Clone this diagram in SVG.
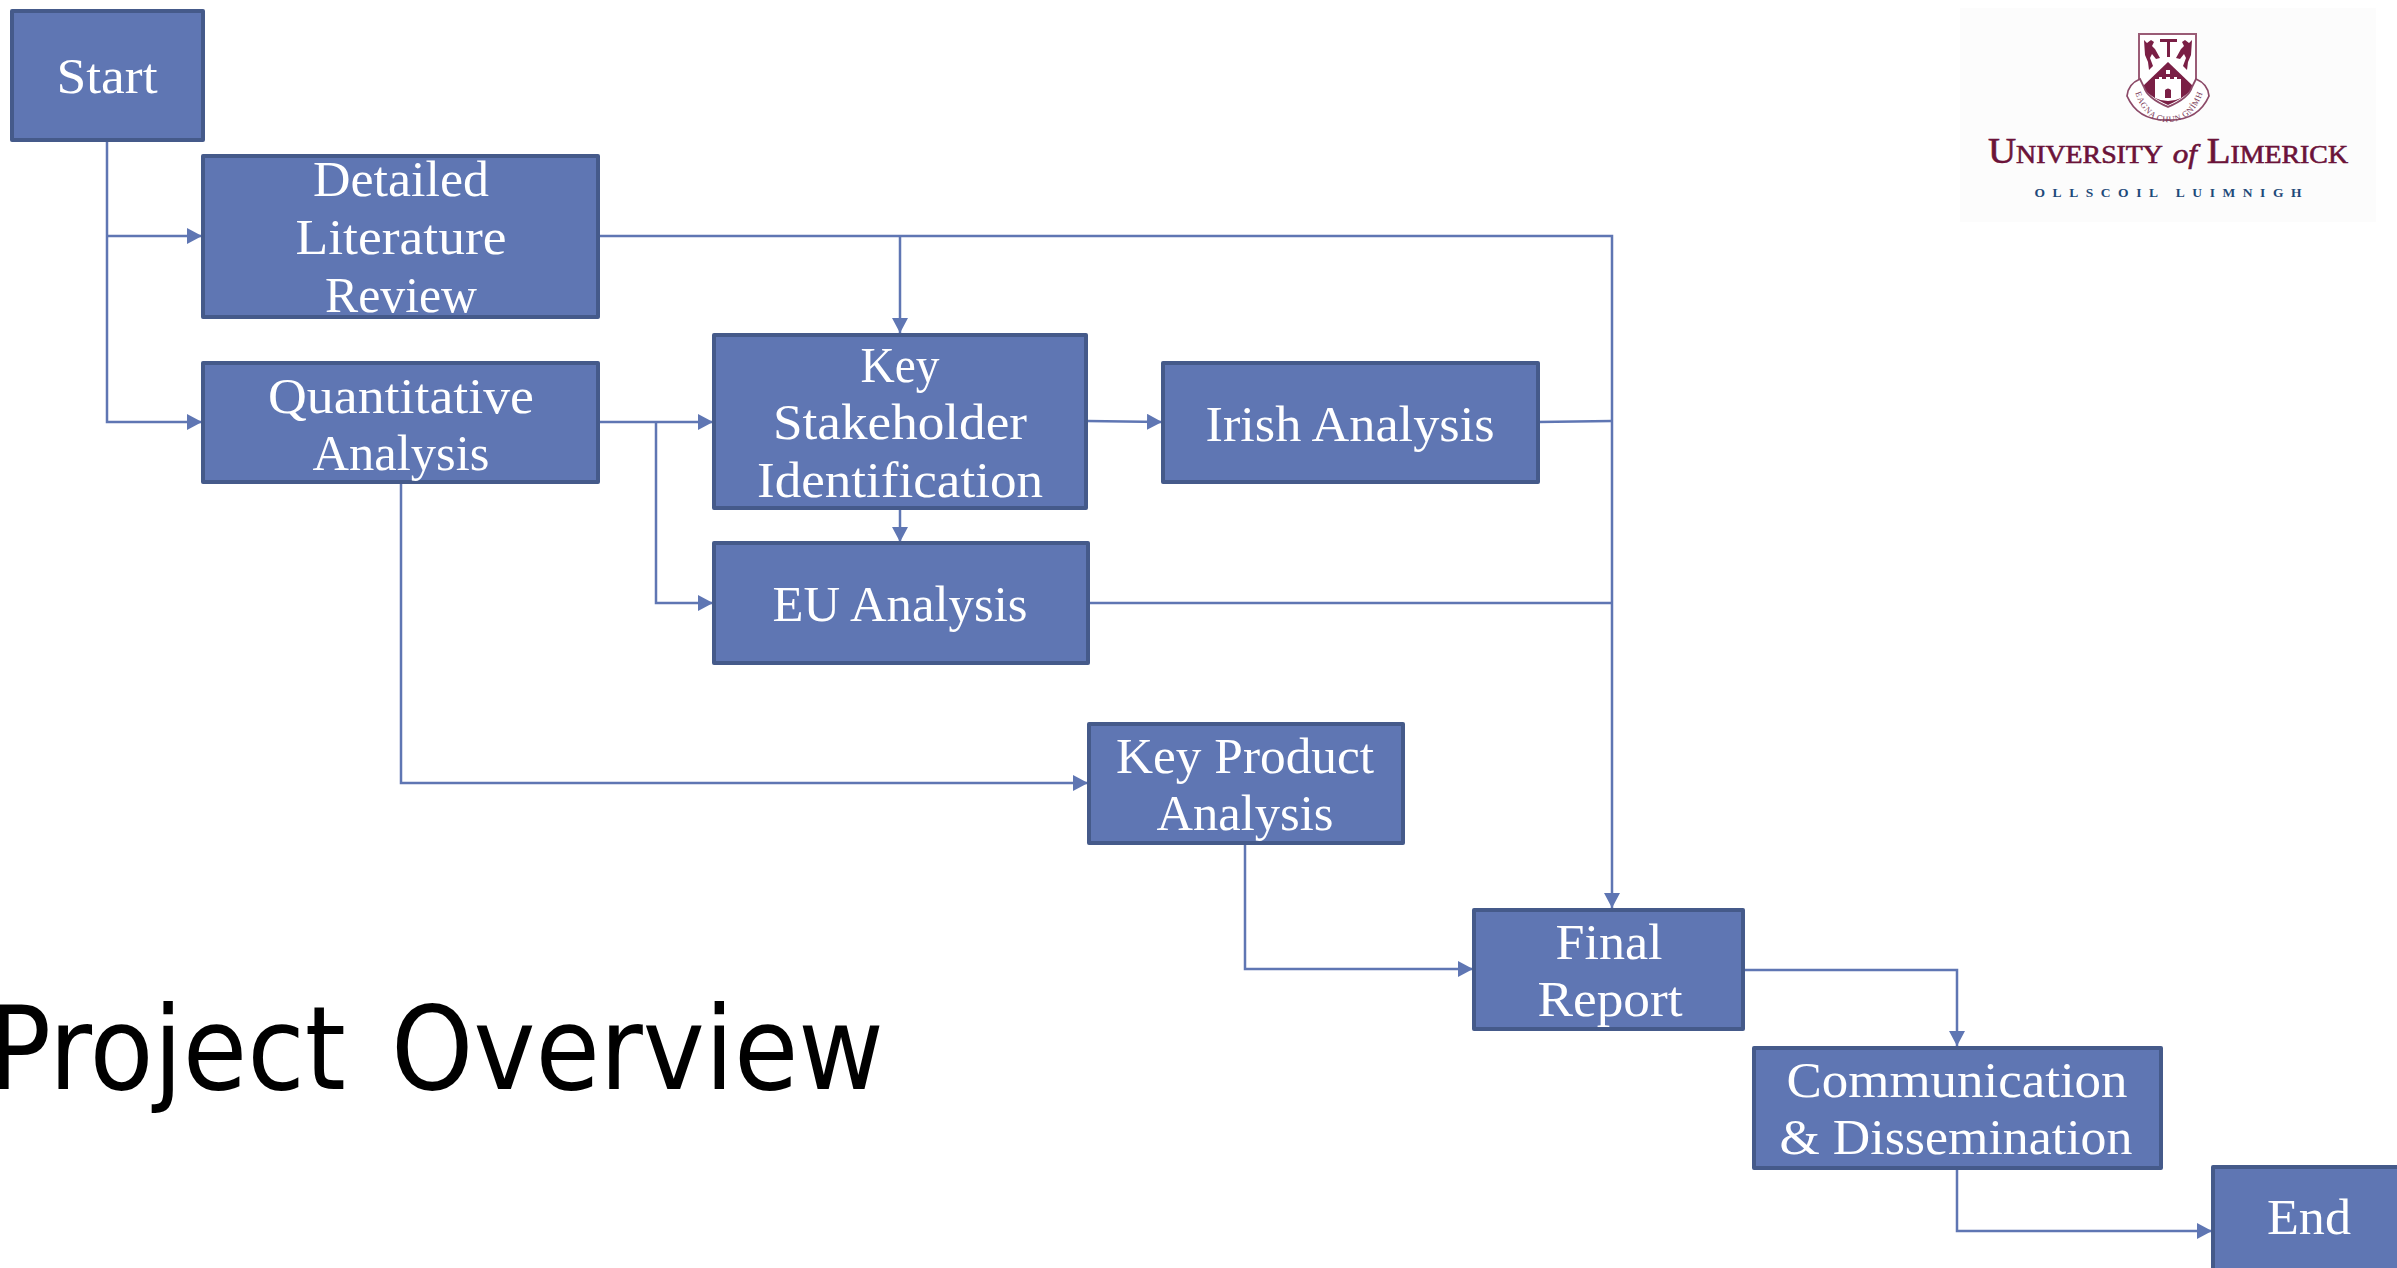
<svg xmlns="http://www.w3.org/2000/svg" width="2397" height="1268" viewBox="0 0 2397 1268">
<style>
.b{fill:#5f76b3;stroke:#455a8a;stroke-width:4;stroke-linejoin:round}
.t{font-family:"Liberation Serif",serif;font-size:51px;fill:#fff;text-anchor:middle}
.c{fill:none;stroke:#5f76b3;stroke-width:2.5}
.m{fill:#5f76b3;stroke:none}
.lg{font-family:"Liberation Serif",serif;fill:#6b1339;stroke:#6b1339;stroke-width:.6}
.cr{fill:#7a1f45}
.w{fill:#fff}
</style>
<defs>
<marker id="a" markerUnits="userSpaceOnUse" markerWidth="16" markerHeight="16" refX="15" refY="8" orient="auto"><path class="m" d="M0 0L15 8L0 16Z"/></marker>
<path id="scroll" d="M2136 95Q2146 122 2168 122Q2192 122 2202 95"/>
</defs>
<rect width="2397" height="1268" fill="#fff"/>
<g id="logo">
<rect x="1960" y="8" width="416" height="214" fill="#fcfcfc"/>
<path d="M2139 34H2196V84Q2196 97 2168 107Q2140 97 2139 84Z" fill="#fff" stroke="#9a5c76" stroke-width="2"/>
<path class="cr" d="M2168 62L2193 86Q2190 95 2168 105Q2146 95 2143 86Z"/>
<path class="w" d="M2155 79h4v-2h3v2h4v-2h4v2h4v-2h3v2h4v19q-6 3 -13 3q-7 0 -13 -3Z"/>
<path class="cr" d="M2165 98v-8q3 -3 6 0v8Z"/>
<path class="w" d="M2166 70h4v4h-4Z"/>
<path class="cr" d="M2160 39h17v3h-7v15h-3v-15h-7Z"/>
<path class="cr" d="M2144 40l3 3l4 -3l3 2l-2 4l3 3l5 9l-4 1l-4 -5l-2 4l3 8l-4 4l-1 -8l-3 -7Z"/>
<path class="cr" d="M2192 40l-3 3l-4 -3l-3 2l2 4l-3 3l-5 9l4 1l4 -5l2 4l-3 8l4 4l1 -8l3 -7Z"/>
<path d="M2127 96Q2128 84 2140 79L2144 87Q2147 98 2168 107Q2189 98 2192 87L2196 79Q2208 84 2209 96Q2198 121 2168 120Q2138 121 2127 96Z" fill="#fff" stroke="#8c4a68" stroke-width="1.8"/>
<text font-family="Liberation Serif,serif" font-size="8.5" fill="#7a3a58" letter-spacing=".6" text-anchor="middle"><textPath href="#scroll" startOffset="50%">EAGNA CHUN GNÍMH</textPath></text>
<text class="lg" x="2168" y="163" font-size="35" text-anchor="middle" textLength="360" lengthAdjust="spacingAndGlyphs">U<tspan font-size="25">NIVERSITY</tspan> <tspan font-style="italic" font-size="28">of</tspan> L<tspan font-size="25">IMERICK</tspan></text>
<text x="2168" y="197" font-family="Liberation Serif,serif" font-weight="bold" font-size="13.5" fill="#1e4a7a" text-anchor="middle" textLength="267">OLLSCOIL  LUIMNIGH</text>
</g>
<text id="title" x="-12" y="1089" font-family="DejaVu Sans,sans-serif" font-size="116" fill="#000" style="font-stretch:condensed;word-spacing:12px" textLength="896" lengthAdjust="spacingAndGlyphs">Project Overview</text>
<g id="connectors">
<path class="c" d="M107 141V422H202" marker-end="url(#a)"/>
<path class="c" d="M107 236H202" marker-end="url(#a)"/>
<path class="c" d="M599 236H1612V908" marker-end="url(#a)"/>
<path class="c" d="M900 236V333" marker-end="url(#a)"/>
<path class="c" d="M598 422H713" marker-end="url(#a)"/>
<path class="c" d="M656 422V603H713" marker-end="url(#a)"/>
<path class="c" d="M1087 421L1162 422" marker-end="url(#a)"/>
<path class="c" d="M900 510V542" marker-end="url(#a)"/>
<path class="c" d="M1538 422L1612 421"/>
<path class="c" d="M1090 603H1612"/>
<path class="c" d="M401 483V783H1088" marker-end="url(#a)"/>
<path class="c" d="M1245 844V969H1473" marker-end="url(#a)"/>
<path class="c" d="M1744 970H1957V1046" marker-end="url(#a)"/>
<path class="c" d="M1957 1168V1231H2212" marker-end="url(#a)"/>
</g>
<g id="start"><rect class="b" x="12" y="11" width="191" height="129"/><text class="t" x="107" y="93" textLength="101" lengthAdjust="spacingAndGlyphs">Start</text></g>
<g id="literature"><rect class="b" x="203" y="156" width="395" height="161"/><text class="t" x="401" y="196" textLength="176" lengthAdjust="spacingAndGlyphs">Detailed</text><text class="t" x="401" y="254" textLength="211" lengthAdjust="spacingAndGlyphs">Literature</text><text class="t" x="401" y="312" textLength="152" lengthAdjust="spacingAndGlyphs">Review</text></g>
<g id="quant"><rect class="b" x="203" y="363" width="395" height="119"/><text class="t" x="401" y="413" textLength="266" lengthAdjust="spacingAndGlyphs">Quantitative</text><text class="t" x="401" y="470" textLength="177" lengthAdjust="spacingAndGlyphs">Analysis</text></g>
<g id="stakeholder"><rect class="b" x="714" y="335" width="372" height="173"/><text class="t" x="900" y="382" textLength="79" lengthAdjust="spacingAndGlyphs">Key</text><text class="t" x="900" y="439" textLength="254" lengthAdjust="spacingAndGlyphs">Stakeholder</text><text class="t" x="900" y="497" textLength="286" lengthAdjust="spacingAndGlyphs">Identification</text></g>
<g id="eu"><rect class="b" x="714" y="543" width="374" height="120"/><text class="t" x="900" y="621" textLength="255" lengthAdjust="spacingAndGlyphs">EU Analysis</text></g>
<g id="irish"><rect class="b" x="1163" y="363" width="375" height="119"/><text class="t" x="1350" y="441" textLength="289" lengthAdjust="spacingAndGlyphs">Irish Analysis</text></g>
<g id="product"><rect class="b" x="1089" y="724" width="314" height="119"/><text class="t" x="1245" y="773" textLength="258" lengthAdjust="spacingAndGlyphs">Key Product</text><text class="t" x="1245" y="830" textLength="177" lengthAdjust="spacingAndGlyphs">Analysis</text></g>
<g id="final"><rect class="b" x="1474" y="910" width="269" height="119"/><text class="t" x="1609" y="959" textLength="107" lengthAdjust="spacingAndGlyphs">Final</text><text class="t" x="1610" y="1016" textLength="145" lengthAdjust="spacingAndGlyphs">Report</text></g>
<g id="comm"><rect class="b" x="1754" y="1048" width="407" height="120"/><text class="t" x="1957" y="1097" textLength="341" lengthAdjust="spacingAndGlyphs">Communication</text><text class="t" x="1956" y="1154" textLength="353" lengthAdjust="spacingAndGlyphs">&amp; Dissemination</text></g>
<g id="end"><rect class="b" x="2213" y="1167" width="190" height="110"/><text class="t" x="2309" y="1234" textLength="84" lengthAdjust="spacingAndGlyphs">End</text></g>
</svg>
